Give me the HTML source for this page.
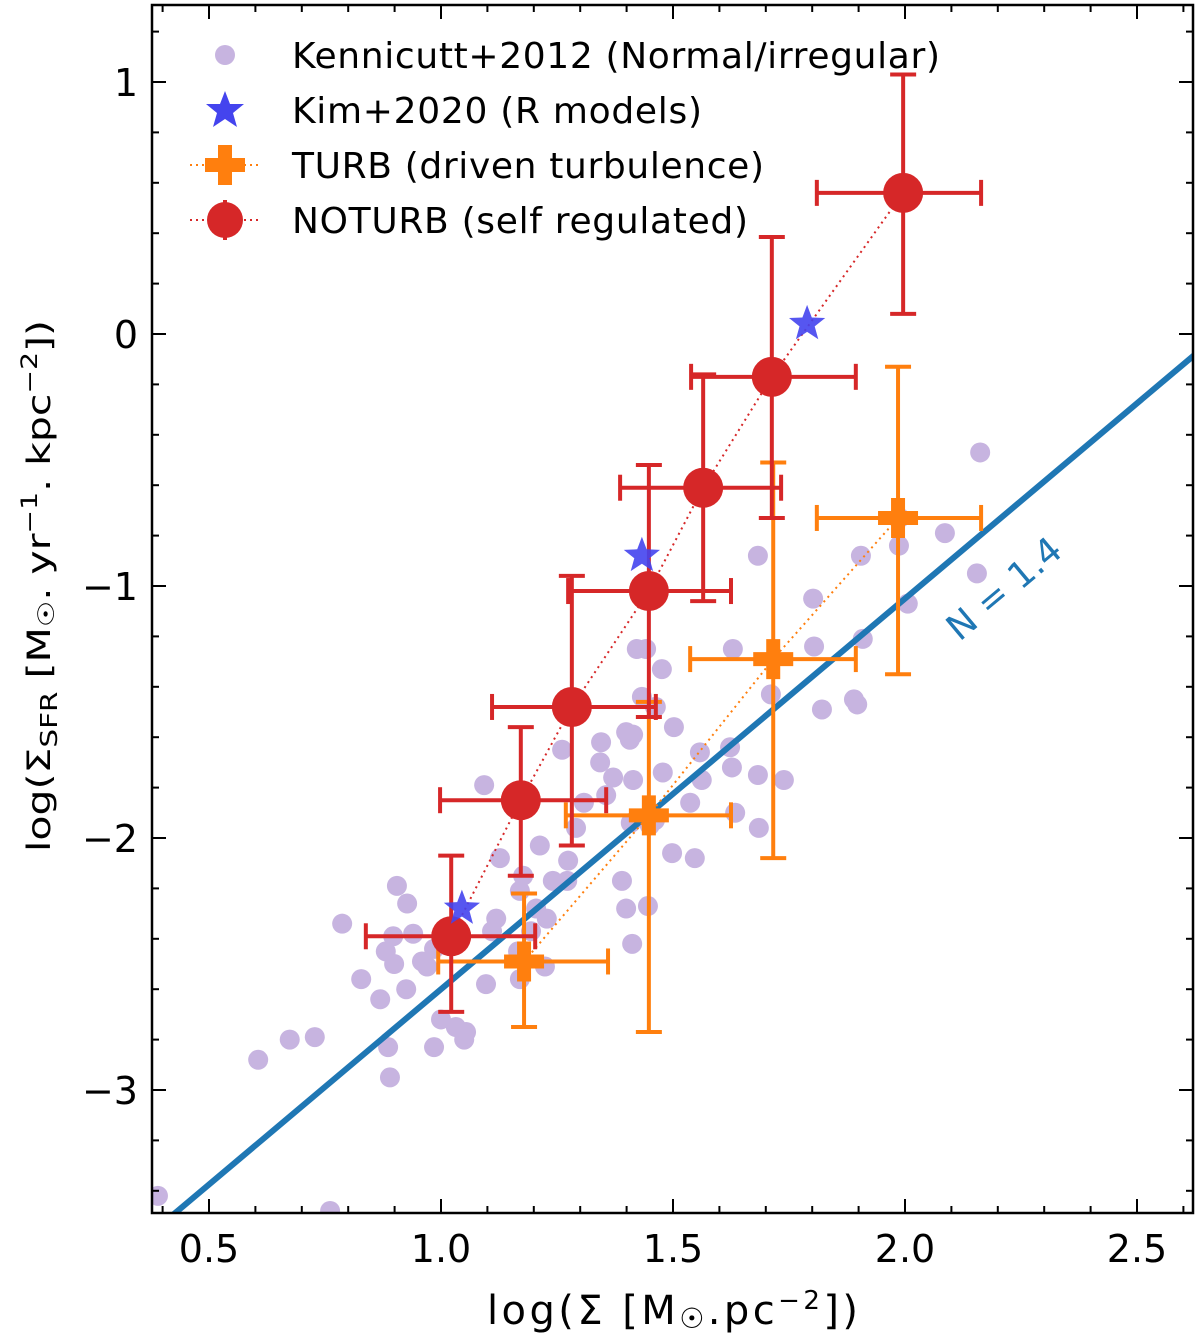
<!DOCTYPE html>
<html><head><meta charset="utf-8"><style>
html,body{margin:0;padding:0;background:#fff;}
svg{display:block;font-family:"DejaVu Sans","Liberation Sans",sans-serif;}
</style></head><body>
<svg id="chart" width="1200" height="1343" viewBox="0 0 1200 1343" xmlns="http://www.w3.org/2000/svg"></svg>
<script>
// ---- data ----
const kennX = [2.162,2.155,2.086,1.987,1.905,2.006,1.989,1.909,1.897,1.821,1.802,1.804,1.711,1.683,1.629,1.623,1.683,1.685,1.739,1.537,1.547,1.558,1.502,1.476,1.463,1.422,1.399,1.345,1.371,1.356,1.308,1.291,1.261,1.274,1.272,1.241,1.213,1.228,1.194,1.205,1.170,1.177,1.127,1.093,1.119,1.110,1.166,1.170,1.224,1.097,1.054,1.050,1.032,1.0,0.985,0.927,0.905,0.897,0.881,0.899,0.925,0.970,0.985,0.959,0.940,0.828,0.869,0.886,0.890,0.787,0.728,0.674,0.606,0.390,0.761,1.390,1.399,1.412,1.446,1.409,1.414,1.461,1.450,1.498,1.478,1.433,1.442,1.562,1.634,1.627,1.890,1.407,1.343,1.461,1.414];
const kennY = [-0.47,-0.95,-0.79,-0.84,-0.88,-1.07,-0.73,-1.21,-1.47,-1.49,-1.05,-1.24,-1.43,-0.88,-1.25,-1.64,-1.75,-1.96,-1.77,-1.86,-2.08,-1.66,-1.56,-1.33,-1.48,-1.25,-1.58,-1.62,-1.76,-1.83,-1.86,-1.96,-1.65,-2.09,-2.17,-2.17,-2.03,-2.32,-2.37,-2.28,-2.21,-2.15,-2.08,-1.79,-2.32,-2.37,-2.45,-2.56,-2.51,-2.58,-2.77,-2.80,-2.75,-2.72,-2.83,-2.26,-2.19,-2.39,-2.45,-2.50,-2.60,-2.51,-2.44,-2.49,-2.38,-2.56,-2.64,-2.83,-2.95,-2.34,-2.79,-2.80,-2.88,-3.42,-3.48,-2.17,-2.28,-2.42,-2.27,-1.94,-1.77,-1.93,-1.95,-2.06,-1.74,-1.44,-1.25,-1.77,-1.90,-1.72,-1.45,-1.61,-1.70,-1.48,-1.59];
const kimX = [1.045,1.433,1.789];
const kimY = [-2.28,-0.88,0.04];
const turbX = [1.179,1.448,1.716,1.985];
const turbY = [-2.49,-1.91,-1.29,-0.73];
const turbXlo = [0.994,1.269,1.537,1.81];
const turbXhi = [1.36,1.625,1.894,2.164];
const turbYlo = [-2.75,-2.77,-2.08,-1.35];
const turbYhi = [-2.22,-1.46,-0.51,-0.13];
const notX = [1.022,1.172,1.282,1.448,1.565,1.713,1.996];
const notY = [-2.39,-1.85,-1.48,-1.02,-0.61,-0.17,0.56];
const notXlo = [0.838,0.998,1.11,1.274,1.386,1.539,1.81];
const notXhi = [1.203,1.356,1.463,1.625,1.733,1.894,2.164];
const notYlo = [-2.69,-2.15,-2.03,-1.52,-1.06,-0.73,0.08];
const notYhi = [-2.07,-1.56,-0.96,-0.52,-0.16,0.385,1.03];
const lawSlope = 1.55;
const lawIntercept = -4.15; // y at x=0
const xTicks = [0.5,1.0,1.5,2.0,2.5];
const xTickLabels = ["0.5","1.0","1.5","2.0","2.5"];
const yTicks = [1,0,-1,-2,-3];
const yTickLabels = ["1","0","\u22121","\u22122","\u22123"];

// ---- axes ----
const L=152,R=1193,T=5,B=1213;
const sx=v=>441+(v-1)*464;
const sy=v=>334-v*252;
const NS="http://www.w3.org/2000/svg";
const svg=document.getElementById('chart');
function mk(tag,a,parent){const e=document.createElementNS(NS,tag);for(const k in a)e.setAttribute(k,a[k]);(parent||svg).appendChild(e);return e;}

const defs=mk('defs',{});
const cp=mk('clipPath',{id:'clip'},defs);
mk('rect',{x:L,y:T,width:R-L,height:B-T},cp);
const plot=mk('g',{'clip-path':'url(#clip)'});



for(let i=0;i<kennX.length;i++){
  const c=mk('circle',{cx:sx(kennX[i]),cy:sy(kennY[i]),r:10,fill:'#c7b4e0'},plot);
  
  
}
const ln=mk('line',{x1:sx(0.3),y1:sy(lawIntercept+lawSlope*0.3),x2:sx(2.7),y2:sy(lawIntercept+lawSlope*2.7),stroke:'#1f77b4','stroke-width':6},plot);



function series(xs,ys,xlo,xhi,ylo,yhi,color,name,marker){
  const pl=mk('polyline',{points:xs.map((v,i)=>sx(v)+','+sy(ys[i])).join(' '),fill:'none',stroke:color,'stroke-width':2,'stroke-dasharray':'2,4'},plot);
  
  
  for(let i=0;i<xs.length;i++){
    const g=mk('g',{stroke:color,'stroke-width':4,fill:color},plot);
    
    
    const cx=sx(xs[i]),cy=sy(ys[i]),a=sx(xlo[i]),b=sx(xhi[i]),c=sy(ylo[i]),d=sy(yhi[i]);
    mk('line',{x1:a,y1:cy,x2:b,y2:cy},g);
    mk('line',{x1:cx,y1:c,x2:cx,y2:d},g);
    mk('line',{x1:a,y1:cy-13,x2:a,y2:cy+13},g);
    mk('line',{x1:b,y1:cy-13,x2:b,y2:cy+13},g);
    mk('line',{x1:cx-13,y1:c,x2:cx+13,y2:c},g);
    mk('line',{x1:cx-13,y1:d,x2:cx+13,y2:d},g);
    if(marker==='circle') mk('circle',{cx:cx,cy:cy,r:20,stroke:'none'},g);
    else mk('path',{d:`M${cx-7},${cy-20}h14v13h13v14h-13v13h-14v-13h-13v-14h13z`,stroke:'none'},g);
  }
}
series(turbX,turbY,turbXlo,turbXhi,turbYlo,turbYhi,'#ff7f0e','turb','plus');
series(notX,notY,notXlo,notXhi,notYlo,notYhi,'#d62728','noturb','circle');

function star(cx,cy,r){let p='';for(let k=0;k<10;k++){const rr=k%2?r*0.42:r;const an=-Math.PI/2+k*Math.PI/5;p+=(k?'L':'M')+(cx+rr*Math.cos(an)).toFixed(1)+','+(cy+rr*Math.sin(an)).toFixed(1);}return p+'Z';}
for(let i=0;i<kimX.length;i++){
  const s=mk('path',{d:star(sx(kimX[i]),sy(kimY[i]),19),fill:'#4444ee','fill-opacity':0.9},plot);
  
  
}
const nt=mk('text',{x:0,y:0,'font-size':36,fill:'#1f77b4',transform:'translate(1012,598) rotate(-40)','text-anchor':'middle'},plot);
nt.textContent='N = 1.4';



const fr=mk('rect',{x:L,y:T,width:R-L,height:B-T,fill:'none',stroke:'#000','stroke-width':2.5});


const tg=mk('g',{stroke:'#000','stroke-width':2});


for(let v=0.4;v<2.65;v+=0.1){const x=sx(v);if(x<L||x>R)continue;const maj=Math.abs(v*2-Math.round(v*2))<1e-6;const len=maj?14:7;
  mk('line',{x1:x,y1:B,x2:x,y2:B-len},tg);mk('line',{x1:x,y1:T,x2:x,y2:T+len},tg);}
for(let v=-3.4;v<1.35;v+=0.2){const y=sy(v);if(y<T||y>B)continue;const maj=Math.abs(v-Math.round(v))<1e-6;const len=maj?14:7;
  mk('line',{x1:L,y1:y,x2:L+len,y2:y},tg);mk('line',{x1:R,y1:y,x2:R-len,y2:y},tg);}
xTicks.forEach((v,i)=>{const t=mk('text',{x:sx(v),y:1262,'font-size':38,'text-anchor':'middle'});t.textContent=xTickLabels[i];
  });
yTicks.forEach((v,i)=>{const t=mk('text',{x:138,y:sy(v)+14,'font-size':38,'text-anchor':'end'});t.textContent=yTickLabels[i];
  });
</script>
<svg style="position:absolute;left:0;top:0" width="1200" height="1343">
  <text x="487" y="1324" font-size="40" textLength="371" lengthAdjust="spacing" font-family="DejaVu Sans, sans-serif">log(Σ [M<tspan font-size="28" dy="4">☉</tspan><tspan dy="-4">.pc</tspan><tspan font-size="26" dy="-15">−2</tspan><tspan dy="15">])</tspan></text>
  <text transform="translate(50,852) rotate(-90)" font-size="32" textLength="532" lengthAdjust="spacingAndGlyphs" font-family="DejaVu Sans, sans-serif">log(Σ<tspan font-size="23" dy="7">SFR</tspan><tspan dy="-7"> [M</tspan><tspan font-size="23" dy="4">☉</tspan><tspan dy="-4">. yr</tspan><tspan font-size="22" dy="-13">−1</tspan><tspan dy="13">. kpc</tspan><tspan font-size="22" dy="-13">−2</tspan><tspan dy="13">])</tspan></text>
  <g font-size="36" font-family="DejaVu Sans, sans-serif">
    <g><circle cx="225" cy="55" r="10" fill="#c7b4e0"/><text x="292" y="68" textLength="648" lengthAdjust="spacing">Kennicutt+2012 (Normal/irregular)</text></g>
    <g><path d="M225,91 L230,104 L244,104 L233,113 L237,127 L225,119 L213,127 L217,113 L206,104 L220,104Z" fill="#4444ee"/><text x="292" y="123" textLength="410" lengthAdjust="spacing">Kim+2020 (R models)</text></g>
    <g><line x1="190" y1="165" x2="262" y2="165" stroke="#ff7f0e" stroke-width="2" stroke-dasharray="2,4"/><line x1="225" y1="145" x2="225" y2="185" stroke="#ff7f0e" stroke-width="4"/><path d="M218,145h14v13h13v14h-13v13h-14v-13h-13v-14h13z" fill="#ff7f0e"/><text x="292" y="178" textLength="472" lengthAdjust="spacing">TURB (driven turbulence)</text></g>
    <g><line x1="190" y1="220" x2="262" y2="220" stroke="#d62728" stroke-width="2" stroke-dasharray="2,4"/><line x1="225" y1="200" x2="225" y2="240" stroke="#d62728" stroke-width="4"/><circle cx="225" cy="220" r="18" fill="#d62728"/><text x="292" y="233" textLength="456" lengthAdjust="spacing">NOTURB (self regulated)</text></g>
  </g>
</svg>
</body></html>
